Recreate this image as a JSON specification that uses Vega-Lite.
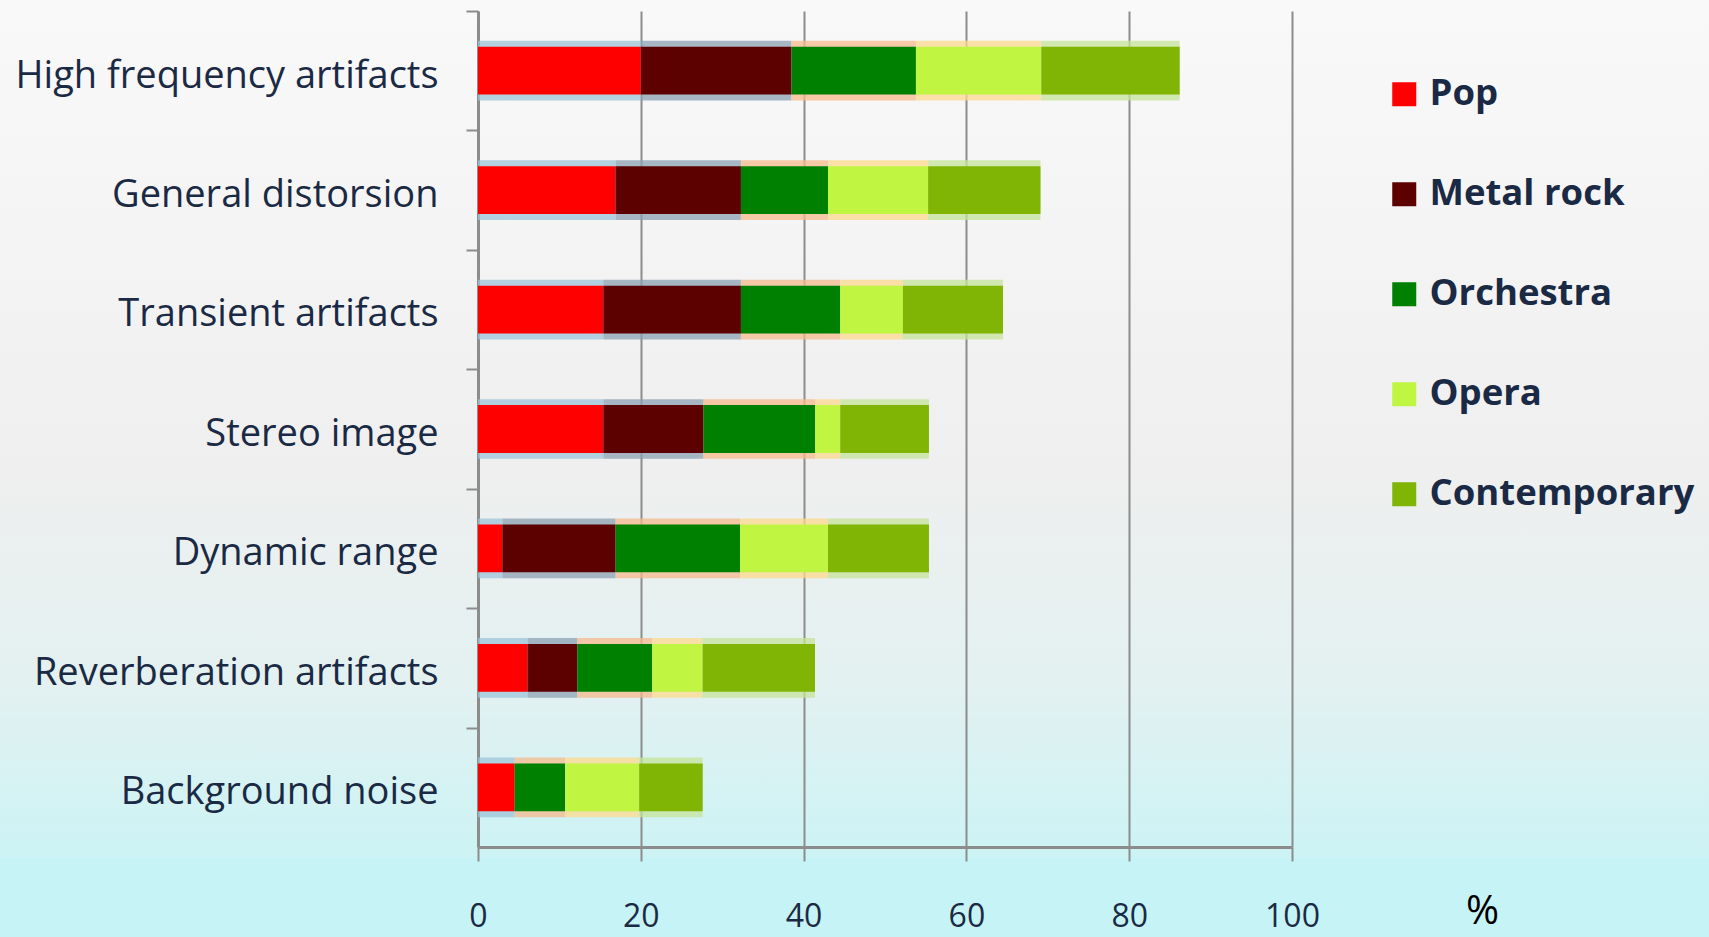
{
  "$schema": "https://vega.github.io/schema/vega-lite/v6.json",
  "width": 1709,
  "height": 858,
  "autosize": "none",
  "padding": {"left": 0, "top": 0, "right": 0, "bottom": 79},
  "background": "#c6f4f6",
  "config": {
    "font": "Open Sans",
    "view": {
      "stroke": null,
      "fill": {
        "gradient": "linear",
        "x1": 0, "y1": 0, "x2": 0, "y2": 1,
        "stops": [
          {"offset": 0, "color": "#f9f9f9"},
          {"offset": 0.55, "color": "#efefef"},
          {"offset": 0.8, "color": "#e3f1f1"},
          {"offset": 1, "color": "#ccf3f5"}
        ]
      }
    }
  },
  "data": {
    "values": [
      {"cat": "High frequency artifacts", "genre": "Pop", "k": 1, "pct": 20.0},
      {"cat": "High frequency artifacts", "genre": "Metal rock", "k": 2, "pct": 18.5},
      {"cat": "High frequency artifacts", "genre": "Orchestra", "k": 3, "pct": 15.3},
      {"cat": "High frequency artifacts", "genre": "Opera", "k": 4, "pct": 15.4},
      {"cat": "High frequency artifacts", "genre": "Contemporary", "k": 5, "pct": 17.0},
      {"cat": "General distorsion", "genre": "Pop", "k": 1, "pct": 16.9},
      {"cat": "General distorsion", "genre": "Metal rock", "k": 2, "pct": 15.4},
      {"cat": "General distorsion", "genre": "Orchestra", "k": 3, "pct": 10.7},
      {"cat": "General distorsion", "genre": "Opera", "k": 4, "pct": 12.3},
      {"cat": "General distorsion", "genre": "Contemporary", "k": 5, "pct": 13.8},
      {"cat": "Transient artifacts", "genre": "Pop", "k": 1, "pct": 15.4},
      {"cat": "Transient artifacts", "genre": "Metal rock", "k": 2, "pct": 16.9},
      {"cat": "Transient artifacts", "genre": "Orchestra", "k": 3, "pct": 12.2},
      {"cat": "Transient artifacts", "genre": "Opera", "k": 4, "pct": 7.7},
      {"cat": "Transient artifacts", "genre": "Contemporary", "k": 5, "pct": 12.3},
      {"cat": "Stereo image", "genre": "Pop", "k": 1, "pct": 15.4},
      {"cat": "Stereo image", "genre": "Metal rock", "k": 2, "pct": 12.3},
      {"cat": "Stereo image", "genre": "Orchestra", "k": 3, "pct": 13.7},
      {"cat": "Stereo image", "genre": "Opera", "k": 4, "pct": 3.1},
      {"cat": "Stereo image", "genre": "Contemporary", "k": 5, "pct": 10.9},
      {"cat": "Dynamic range", "genre": "Pop", "k": 1, "pct": 3.0},
      {"cat": "Dynamic range", "genre": "Metal rock", "k": 2, "pct": 13.9},
      {"cat": "Dynamic range", "genre": "Orchestra", "k": 3, "pct": 15.3},
      {"cat": "Dynamic range", "genre": "Opera", "k": 4, "pct": 10.8},
      {"cat": "Dynamic range", "genre": "Contemporary", "k": 5, "pct": 12.4},
      {"cat": "Reverberation artifacts", "genre": "Pop", "k": 1, "pct": 6.1},
      {"cat": "Reverberation artifacts", "genre": "Metal rock", "k": 2, "pct": 6.1},
      {"cat": "Reverberation artifacts", "genre": "Orchestra", "k": 3, "pct": 9.2},
      {"cat": "Reverberation artifacts", "genre": "Opera", "k": 4, "pct": 6.2},
      {"cat": "Reverberation artifacts", "genre": "Contemporary", "k": 5, "pct": 13.8},
      {"cat": "Background noise", "genre": "Pop", "k": 1, "pct": 4.5},
      {"cat": "Background noise", "genre": "Metal rock", "k": 2, "pct": 0},
      {"cat": "Background noise", "genre": "Orchestra", "k": 3, "pct": 6.2},
      {"cat": "Background noise", "genre": "Opera", "k": 4, "pct": 9.1},
      {"cat": "Background noise", "genre": "Contemporary", "k": 5, "pct": 7.8}
    ]
  },
  "encoding": {
    "y": {
      "field": "cat",
      "type": "nominal",
      "sort": null,
      "scale": {"range": [11, 847], "paddingInner": 0.6, "paddingOuter": 0.3},
      "axis": {
        "orient": "left",
        "offset": -478,
        "title": null,
        "grid": false,
        "tickOffset": -59.71,
        "labelOffset": 65,
        "domainColor": "#8c8c8c",
        "domainWidth": 3,
        "tickColor": "#8c8c8c",
        "tickWidth": 2,
        "tickSize": 12,
        "labelFontSize": 38,
        "labelColor": "#1b2a44",
        "labelPadding": 28,
        "labelLimit": 0
      }
    },
    "x": {
      "field": "pct",
      "type": "quantitative",
      "stack": "zero",
      "scale": {"domain": [0, 100], "range": [478, 1292], "nice": false},
      "axis": {
        "orient": "bottom",
        "offset": -11,
        "values": [0, 20, 40, 60, 80, 100],
        "grid": true,
        "gridColor": "#8c8c8c",
        "gridWidth": 2,
        "domainColor": "#8c8c8c",
        "domainWidth": 3,
        "tickColor": "#8c8c8c",
        "tickWidth": 2,
        "tickSize": 14,
        "labelFontSize": 32,
        "labelFlush": false,
        "labelOverlap": false,
        "labelColor": "#1b2a44",
        "labelPadding": 40,
        "title": "%",
        "titleFontSize": 40,
        "titleFontWeight": "normal",
        "titleColor": "#000000",
        "titleX": 1482,
        "titleY": 64,
        "titleBaseline": "middle",
        "titleAlign": "center"
      }
    },
    "order": {"field": "k", "type": "quantitative"}
  },
  "layer": [
    {
      "mark": {"type": "bar", "height": {"band": 1.25}, "opacity": 0.75},
      "encoding": {
        "color": {
          "field": "genre",
          "type": "nominal",
          "sort": ["Pop", "Metal rock", "Orchestra", "Opera", "Contemporary"],
          "scale": {
            "domain": ["Pop", "Metal rock", "Orchestra", "Opera", "Contemporary"],
            "range": ["#9cc4d9", "#8ca2b3", "#f5b98c", "#fcd98c", "#c5e39a"]
          },
          "legend": null
        }
      }
    },
    {
      "mark": {"type": "bar"},
      "encoding": {
        "color": {
          "field": "genre",
          "type": "nominal",
          "sort": ["Pop", "Metal rock", "Orchestra", "Opera", "Contemporary"],
          "scale": {
            "domain": ["Pop", "Metal rock", "Orchestra", "Opera", "Contemporary"],
            "range": ["#ff0000", "#5c0000", "#008000", "#c0f542", "#80b405"]
          },
          "legend": {
            "orient": "none",
            "legendX": 1386,
            "legendY": 76,
            "title": null,
            "symbolType": "square",
            "symbolSize": 576,
            "symbolStrokeWidth": 0,
            "symbolOpacity": 1,
            "labelFontSize": 36.5,
            "labelFontWeight": "bold",
            "labelColor": "#1b2a44",
            "labelOffset": 7,
            "rowPadding": 63,
            "labelLimit": 0
          }
        }
      }
    }
  ],
  "resolve": {"scale": {"color": "independent"}}
}
